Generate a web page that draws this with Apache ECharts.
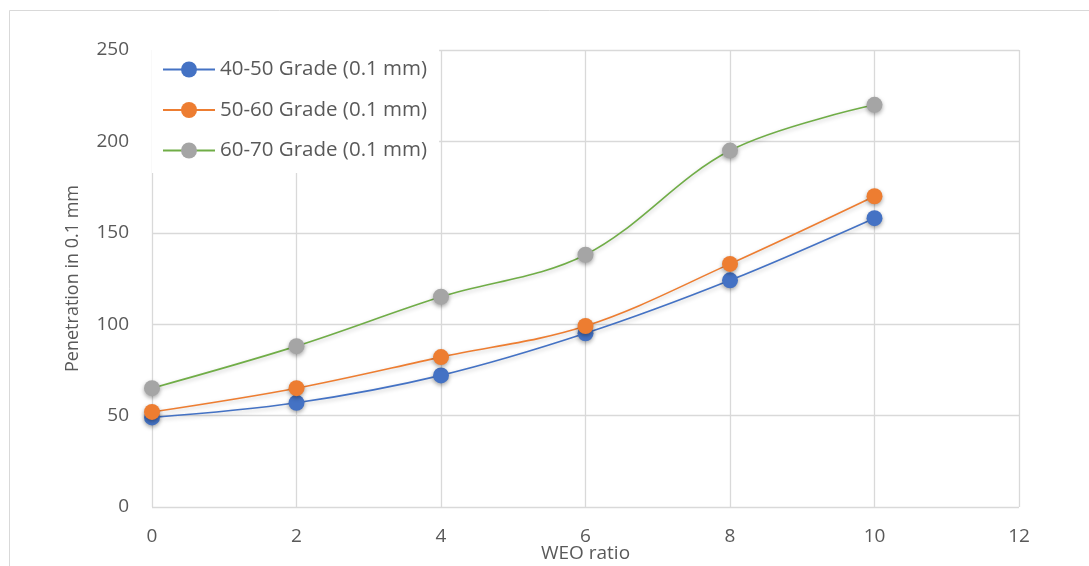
<!DOCTYPE html>
<html>
<head>
<meta charset="utf-8">
<script src="https://cdn.jsdelivr.net/npm/echarts@6/dist/echarts.min.js"></script>
<style>
  html, body { margin: 0; padding: 0; background: #ffffff; }
  #chart { width: 1089px; height: 566px; }
</style>
</head>
<body>
<div id="chart"></div>
<script>
// WEO ratio (x) and penetration readings for each bitumen grade
const weoRatio = [0, 2, 4, 6, 8, 10];
const grade4050 = [49, 57, 72, 95, 124, 158];
const grade5060 = [52, 65, 82, 99, 133, 170];
const grade6070 = [65, 88, 115, 138, 195, 220];

const seriesNames = ['40-50 Grade (0.1 mm)', '50-60 Grade (0.1 mm)', '60-70 Grade (0.1 mm)'];
const xAxisName = 'WEO ratio';
const yAxisName = 'Penetration in 0.1 mm';

const FONT = '"Open Sans", Lato, sans-serif';
const TEXT = '#595959';
const GRID = '#d9d9d9';

function pairs(ys) { return weoRatio.map((x, i) => [x, ys[i]]); }

function makeSeries(name, ys, markerColor, lineColor) {
  return {
    name: name,
    type: 'line',
    smooth: 0.35,
    data: pairs(ys),
    symbol: 'circle',
    symbolSize: 16,
    itemStyle: {
      color: markerColor,
      shadowBlur: 4,
      shadowColor: 'rgba(0,0,0,0.35)',
      shadowOffsetY: 2
    },
    lineStyle: {
      color: lineColor,
      width: 1.6,
      shadowBlur: 4,
      shadowColor: 'rgba(0,0,0,0.22)',
      shadowOffsetY: 2
    },
    emphasis: { disabled: true },
    z: 3
  };
}

const chart = echarts.init(document.getElementById('chart'), null, { renderer: 'canvas' });

chart.setOption({
  animation: false,
  backgroundColor: '#ffffff',
  textStyle: { fontFamily: FONT },
  graphic: [{
    type: 'rect',
    shape: { x: 9.5, y: 10.5, width: 1200, height: 700 },
    style: { fill: 'none', stroke: GRID, lineWidth: 1 },
    silent: true,
    z: -10
  }],
  grid: { left: 152, right: 70, top: 50, bottom: 59, containLabel: false, outerBoundsMode: 'none' },
  legend: {
    orient: 'vertical',
    left: 152,
    top: 44,
    padding: [15, 12, 12, 10],
    backgroundColor: '#ffffff',
    itemWidth: 52,
    itemHeight: 20,
    itemGap: 19.5,
    textStyle: { color: TEXT, fontSize: 20.5, fontFamily: FONT },
    data: seriesNames,
    z: 10
  },
  xAxis: {
    type: 'value',
    min: 0,
    max: 12,
    interval: 2,
    name: xAxisName,
    nameLocation: 'middle',
    nameGap: 37,
    nameMoveOverlap: false,
    nameTextStyle: { color: TEXT, fontSize: 19, fontFamily: FONT },
    axisLine: { show: false },
    axisTick: { show: false },
    axisLabel: { color: TEXT, fontSize: 19, margin: 20, fontFamily: FONT },
    splitLine: { show: true, lineStyle: { color: GRID, width: 1.3 } }
  },
  yAxis: {
    type: 'value',
    min: 0,
    max: 250,
    interval: 50,
    name: yAxisName,
    nameLocation: 'middle',
    nameGap: 70,
    nameMoveOverlap: false,
    nameTextStyle: { color: TEXT, fontSize: 18, fontFamily: FONT },
    axisLine: { show: false },
    axisTick: { show: false },
    axisLabel: { color: TEXT, fontSize: 19, margin: 23, fontFamily: FONT },
    splitLine: { show: true, lineStyle: { color: GRID, width: 1.3 } }
  },
  series: [
    makeSeries(seriesNames[0], grade4050, '#4472C4', '#4472C4'),
    makeSeries(seriesNames[1], grade5060, '#ED7D31', '#ED7D31'),
    makeSeries(seriesNames[2], grade6070, '#A5A5A5', '#70AD47')
  ]
});
</script>
</body>
</html>
